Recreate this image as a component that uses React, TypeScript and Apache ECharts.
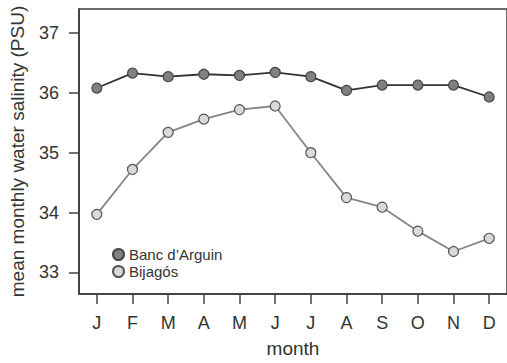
import React, { useEffect, useRef } from "react";
import * as echarts from "echarts";

const months = ["J", "F", "M", "A", "M", "J", "J", "A", "S", "O", "N", "D"];
const bancDArguin = [36.08, 36.33, 36.27, 36.31, 36.29, 36.34, 36.27, 36.04, 36.13, 36.13, 36.13, 35.93];
const bijagos = [33.97, 34.72, 35.34, 35.56, 35.72, 35.78, 35.0, 34.25, 34.09, 33.69, 33.35, 33.57];
const yTicks = [33, 34, 35, 36, 37];

const FONT = "Liberation Sans, Arial, Helvetica, sans-serif";

export default function App() {
  const ref = useRef<HTMLDivElement>(null);
  useEffect(() => {
    if (!ref.current) return;
    const chart = echarts.init(ref.current, undefined, { renderer: "svg" });
    chart.setOption({
      animation: false,
      backgroundColor: "#ffffff",
      grid: {
        left: 75,
        top: 9,
        width: 440,
        height: 296,
        show: true,
        borderColor: "#3a3a3a",
        borderWidth: 1.5,
        containLabel: false,
      },
      legend: {
        orient: "vertical",
        left: 107,
        top: 242,
        padding: 5,
        itemWidth: 11,
        itemHeight: 11,
        itemGap: 2,
        icon: "circle",
        textStyle: { fontFamily: FONT, fontSize: 15, color: "#333" },
        data: ["Banc d\u2019Arguin", "Bijagós"],
      },
      xAxis: {
        type: "category",
        data: months,
        boundaryGap: true,
        name: "month",
        nameLocation: "middle",
        nameGap: 45,
        nameTextStyle: { fontFamily: FONT, fontSize: 19, color: "#333" },
        axisLine: { show: true, lineStyle: { color: "#3a3a3a", width: 1.5 } },
        axisTick: { show: true, alignWithLabel: true, length: 10, lineStyle: { color: "#444", width: 1.5 } },
        axisLabel: { fontFamily: FONT, fontSize: 18, color: "#333", margin: 20 },
        splitLine: { show: false },
      },
      yAxis: {
        type: "value",
        min: 32.64,
        max: 37.4,
        name: "mean monthly water salinity (PSU)",
        nameLocation: "middle",
        nameGap: 52,
        nameTextStyle: { fontFamily: FONT, fontSize: 19, color: "#333" },
        axisLine: { show: true, lineStyle: { color: "#3a3a3a", width: 1.5 } },
        axisTick: { show: true, length: 10, customValues: yTicks, lineStyle: { color: "#444", width: 1.5 } },
        axisLabel: { fontFamily: FONT, fontSize: 18, color: "#333", margin: 20, customValues: yTicks },
        splitLine: { show: false },
      },
      series: [
        {
          name: "Banc d\u2019Arguin",
          type: "line",
          data: bancDArguin,
          symbol: "circle",
          symbolSize: 10,
          lineStyle: { color: "#333333", width: 1.8 },
          itemStyle: { color: "#808080", borderColor: "#444444", borderWidth: 1.2 },
          z: 3,
        },
        {
          name: "Bijagós",
          type: "line",
          data: bijagos,
          symbol: "circle",
          symbolSize: 10,
          lineStyle: { color: "#858585", width: 1.8 },
          itemStyle: { color: "#d9d9d9", borderColor: "#555555", borderWidth: 1.2 },
          z: 2,
        },
      ],
    });
    return () => chart.dispose();
  }, []);
  return (
    <div
      ref={ref}
      style={{ position: "fixed", left: 0, top: 0, width: 507, height: 363 }}
    />
  );
}
